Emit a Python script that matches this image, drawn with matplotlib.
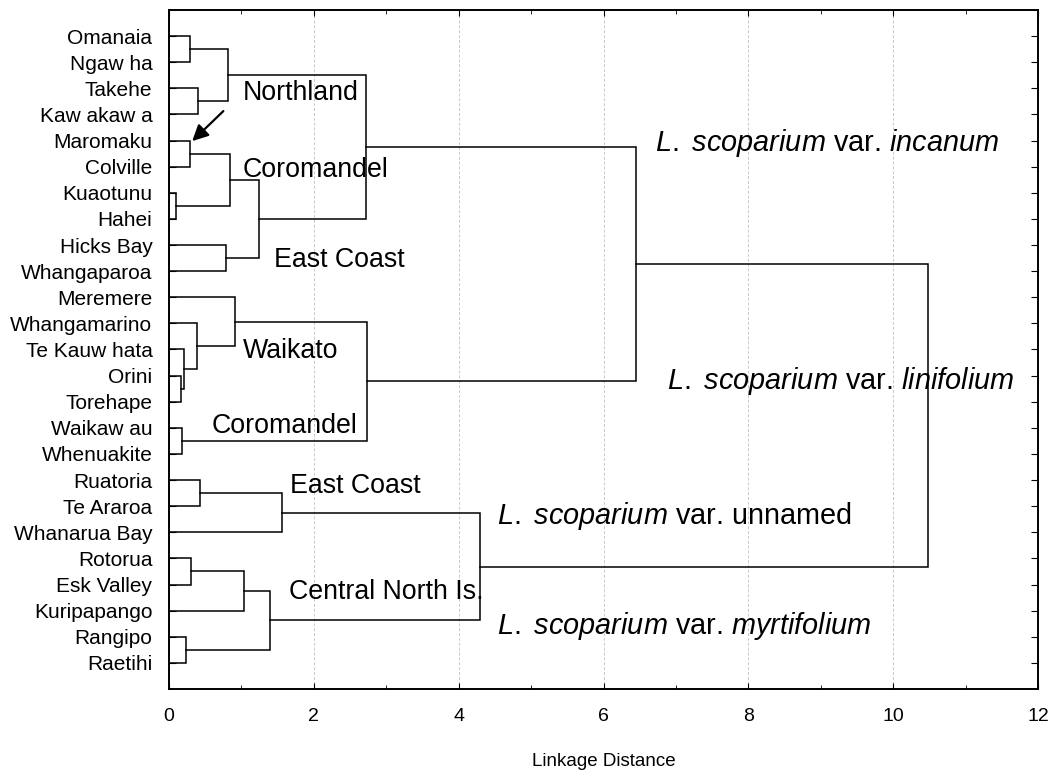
import matplotlib.pyplot as plt
from matplotlib.ticker import MultipleLocator

plt.rcParams['font.family'] = ['Liberation Sans', 'DejaVu Sans']
plt.rcParams['mathtext.fontset'] = 'custom'
plt.rcParams['mathtext.rm'] = 'Liberation Sans'
plt.rcParams['mathtext.it'] = 'Liberation Sans:italic'

# leaf order from top to bottom
sites = ['Omanaia', 'Ngaw ha', 'Takehe', 'Kaw akaw a', 'Maromaku', 'Colville',
         'Kuaotunu', 'Hahei', 'Hicks Bay', 'Whangaparoa', 'Meremere',
         'Whangamarino', 'Te Kauw hata', 'Orini', 'Torehape', 'Waikaw au',
         'Whenuakite', 'Ruatoria', 'Te Araroa', 'Whanarua Bay', 'Rotorua',
         'Esk Valley', 'Kuripapango', 'Rangipo', 'Raetihi']

# joins: indices < 25 are sites, 25+ are the clusters made by earlier joins
join_a = [0, 2, 25, 4, 6, 28, 8, 30, 27, 13, 12, 11, 10, 15, 37, 33,
          17, 41, 20, 43, 23, 44, 42, 40]
join_b = [1, 3, 26, 5, 7, 29, 9, 31, 32, 14, 34, 35, 36, 16, 38, 39,
          18, 19, 21, 22, 24, 45, 46, 47]
join_dist = [0.29, 0.40, 0.82, 0.29, 0.09, 0.84, 0.79, 1.24, 2.72, 0.17,
             0.21, 0.38, 0.91, 0.18, 2.74, 6.45, 0.43, 1.56, 0.30, 1.04,
             0.235, 1.40, 4.30, 10.48]

# group labels
group_text = ['Northland', 'Coromandel', 'East Coast', 'Waikato', 'Coromandel',
              'East Coast', 'Central North Is.']
group_x = [1.02, 1.02, 1.45, 1.02, 0.59, 1.67, 1.66]
group_y = [3.18, 6.12, 9.56, 13.07, 15.94, 18.23, 22.28]

var_name = ['incanum', 'linifolium', 'unnamed', 'myrtifolium']
var_x = [6.71, 6.88, 4.53, 4.53]
var_y = [5.09, 14.22, 19.38, 23.58]


def main():
    fig = plt.figure(figsize=(10.5, 7.71), dpi=100)
    ax = fig.add_axes([0.161, 0.1064, 0.8276, 0.8806])

    # x (distance) and y (row) of every node
    node_x = [0.0] * len(sites)
    node_y = [i + 1.0 for i in range(len(sites))]
    for a, b, d in zip(join_a, join_b, join_dist):
        ax.plot([node_x[a], d, d, node_x[b]],
                [node_y[a], node_y[a], node_y[b], node_y[b]],
                color='black', lw=1.1, solid_joinstyle='miter')
        node_x.append(d)
        node_y.append((node_y[a] + node_y[b]) / 2)

    for t, x, y in zip(group_text, group_x, group_y):
        ax.text(x, y, t, fontsize=19.3, ha='left', va='center')

    for v, x, y in zip(var_name, var_x, var_y):
        if v == 'unnamed':
            txt = r'$\it{L.\ scoparium}$ var. unnamed'
        else:
            txt = r'$\it{L.\ scoparium}$ var. $\it{' + v + '}$'
        ax.text(x, y, txt, fontsize=20.8, ha='left', va='center')

    ax.annotate('', xy=(0.32, 5.02), xytext=(0.75, 3.87),
                arrowprops=dict(arrowstyle='-|>', color='black', lw=1.6,
                                mutation_scale=24, shrinkA=0, shrinkB=0))

    ax.set_xlim(0, 12)
    ax.set_ylim(26, 0)
    ax.xaxis.set_major_locator(MultipleLocator(2))
    ax.xaxis.set_minor_locator(MultipleLocator(1))
    ax.set_yticks(range(1, len(sites) + 1))
    ax.set_yticklabels(sites, fontsize=15)
    ax.tick_params(axis='x', which='both', direction='in', top=True,
                   labelsize=14, pad=14)
    ax.tick_params(axis='x', which='major', length=4)
    ax.tick_params(axis='x', which='minor', length=3)
    ax.tick_params(axis='y', direction='in', right=True, length=5, pad=12)
    ax.grid(axis='x', which='major', color='#c8c8c8', ls=(0, (3, 2)), lw=0.7)
    for s in ax.spines.values():
        s.set_linewidth(1.4)

    ax.set_xlabel('Linkage Distance', fontsize=13.5, labelpad=20)

    fig.savefig('out.png', dpi=100)


if __name__ == '__main__':
    main()
